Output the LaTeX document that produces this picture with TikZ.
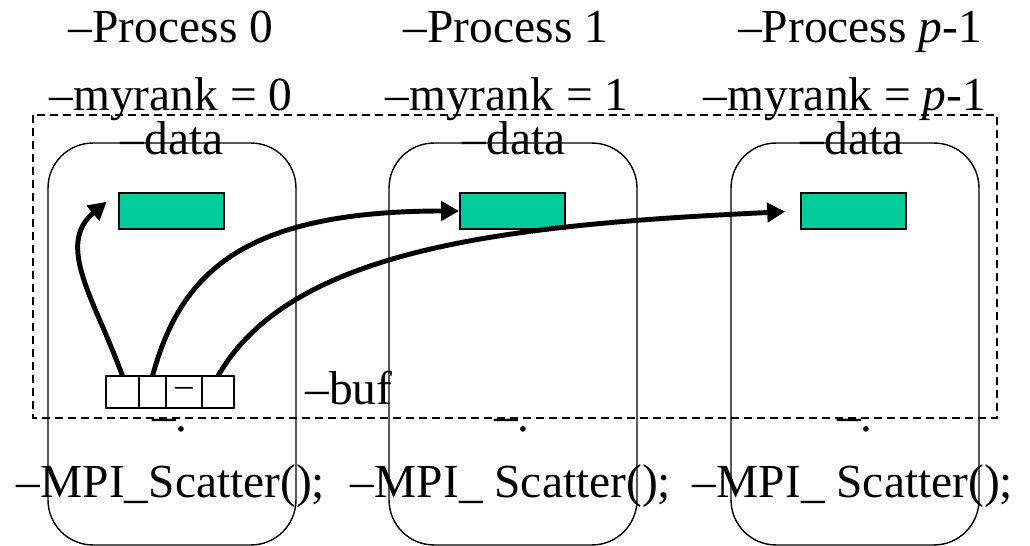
\documentclass[tikz,border=0pt]{standalone}
\usepackage{fontspec}
\setmainfont{Liberation Serif}
\usetikzlibrary{positioning, arrows.meta, shapes}
\definecolor{datagreen}{RGB}{0,204,153}
\tikzset{procbox/.style={draw, line width=0.8pt, rounded corners=0.9cm, minimum width=4.96cm, minimum height=8.04cm}}
\tikzset{datbox/.style={draw, line width=1pt, fill=datagreen, minimum width=2.1cm, minimum height=0.72cm}}
\tikzset{cellbox/.style={draw, line width=0.9pt, minimum height=0.64cm, inner sep=0pt, outer sep=0pt}}
\tikzset{lbl/.style={font=\fontsize{27}{30}\selectfont, anchor=base, inner sep=0pt}}
\tikzset{grpbox/.style={draw, line width=0.6pt, dash pattern=on 0.16cm off 0.1cm}}
\tikzset{sarr/.style={draw, line width=2.8pt, -{Triangle[length=0.36cm, width=0.38cm]}}}

\begin{document}
\begin{tikzpicture}[x=0.02cm, y=-0.02cm]
	\useasboundingbox (0,0) rectangle (1030,546);
	% processes
	\node[procbox] (P0) at (172,344) {};
	\node[procbox] (P1) at (513,344) {};
	\node[procbox] (P2) at (855,344) {};
	\draw[grpbox] (33,115) rectangle (997,418);
	%
	\node[datbox] (D0) at (171.5,211) {};
	\node[datbox] (D1) at (512.5,211) {};
	\node[datbox] (D2) at (853.5,211) {};
	% send buffer
	\node[cellbox, minimum width=0.66cm] (c1) at (122.5,392) {};
	\node[cellbox, minimum width=0.54cm, right=0pt of c1] (c2) {};
	\node[cellbox, minimum width=0.72cm, right=0pt of c2,
		font=\fontsize{20}{22}\selectfont] (c3) {--};
	\node[cellbox, minimum width=0.64cm, right=0pt of c3] (c4) {};
	%
	\draw[sarr, shorten >=0.3cm] (c1.north) .. controls (95,300) and (55,245) .. (D0.north west);
	\draw[sarr] (c2.north) .. controls (180,275) and (240,211) .. (D1.west);
	\draw[sarr, shorten >=0.3cm] (c4.north) .. controls (290,250) and (500,225) .. (D2.west);
	% labels
	\node[lbl] (h0) at (171,43) {--Process 0};
	\node[lbl] (h1) at (506,43) {--Process 1};
	\node[lbl] (h2) at (860,43) {--Process \textit{p}-1};
	\node[lbl] (r0) at (171,111) {--myrank = 0};
	\node[lbl] (r1) at (507,111) {--myrank = 1};
	\node[lbl] (r2) at (845,111) {--myrank = \textit{p}-1};
	\node[lbl] (d0) at (172,155) {--data};
	\node[lbl] (d1) at (514,155) {--data};
	\node[lbl] (d2) at (852,155) {--data};
	\node[lbl] (buf) at (349,405) {--buf};
	\node[lbl] (e0) at (170,432) {--.};
	\node[lbl] (e1) at (512,432) {--.};
	\node[lbl] (e2) at (855,432) {--.};
	\node[lbl] (m0) at (171,498) {--MPI\_Scatter();};
	\node[lbl] (m1) at (511,498) {--MPI\_ Scatter();};
	\node[lbl] (m2) at (853,498) {--MPI\_ Scatter();};
\end{tikzpicture}
\end{document}
